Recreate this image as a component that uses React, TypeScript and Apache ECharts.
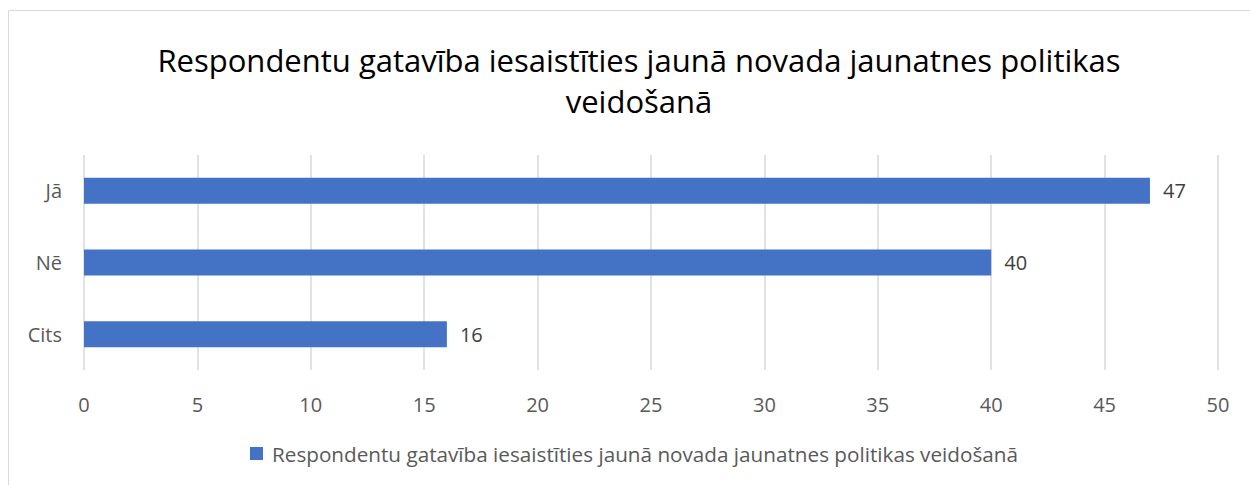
import React, { useEffect, useRef } from "react";
import * as echarts from "echarts";

const titleText = "Respondentu gatavība iesaistīties jaunā novada jaunatnes politikas\nveidošanā";
const seriesName = "Respondentu gatavība iesaistīties jaunā novada jaunatnes politikas veidošanā";
const categories = ["Cits", "Nē", "Jā"];
const values = [16, 40, 47];
const xTicks = { min: 0, max: 50, interval: 5 };

const FONT = "'Open Sans', 'Noto Sans', sans-serif";

export default function App() {
  const ref = useRef<HTMLDivElement>(null);
  useEffect(() => {
    if (!ref.current) return;
    const chart = echarts.init(ref.current, null, { renderer: "svg" });
    chart.setOption({
      animation: false,
      backgroundColor: "#ffffff",
      graphic: [
        {
          type: "rect",
          shape: { x: 8.5, y: 10.5, width: 1260, height: 490 },
          style: { fill: "none", stroke: "#d9d9d9", lineWidth: 1 },
          silent: true,
        },
      ],
      title: {
        text: titleText,
        left: 634,
        top: 34,
        textAlign: "center",
        textStyle: {
          fontFamily: FONT,
          fontSize: 31,
          fontWeight: "normal",
          color: "#000000",
          lineHeight: 41,
          align: "center",
        },
      },
      legend: {
        bottom: 16,
        left: 245,
        itemWidth: 13,
        itemHeight: 13,
        itemGap: 6,
        icon: "rect",
        textStyle: { fontFamily: FONT, fontSize: 20.7, color: "#595959", padding: [0, 0, 0, 4] },
        data: [seriesName],
      },
      grid: { left: 84, right: 32, top: 155, bottom: 115, containLabel: false },
      xAxis: {
        type: "value",
        min: xTicks.min,
        max: xTicks.max,
        interval: xTicks.interval,
        axisLine: { show: false },
        axisTick: { show: false },
        axisLabel: { margin: 24, fontFamily: FONT, fontSize: 20, color: "#595959" },
        splitLine: { show: true, lineStyle: { color: "#d9d9d9", width: 1.5 } },
      },
      yAxis: {
        type: "category",
        data: categories,
        axisLine: { show: false },
        axisTick: { show: false },
        axisLabel: { margin: 22, fontFamily: FONT, fontSize: 20, color: "#595959" },
      },
      series: [
        {
          name: seriesName,
          type: "bar",
          data: values,
          barWidth: 26,
          itemStyle: { color: "#4472c4" },
          label: {
            show: true,
            position: "right",
            distance: 13,
            fontFamily: FONT,
            fontSize: 20,
            color: "#404040",
          },
        },
      ],
    });
    return () => chart.dispose();
  }, []);
  return (
    <div
      ref={ref}
      style={{ position: "fixed", left: 0, top: 0, width: 1250, height: 485 }}
    />
  );
}
